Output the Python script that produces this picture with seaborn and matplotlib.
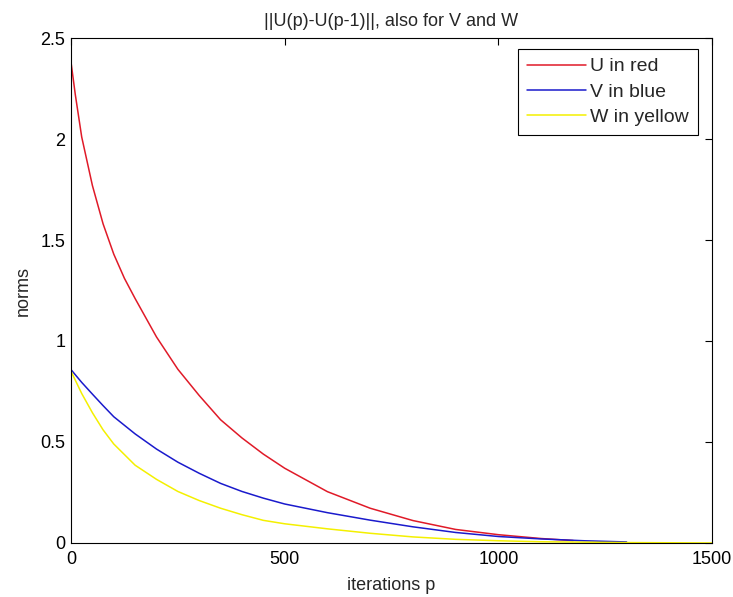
import numpy as np
import pandas as pd
import matplotlib
matplotlib.use("Agg")
import matplotlib.pyplot as plt
import seaborn as sns

# ------------------------------
# Data
# ------------------------------
u_iter = [0, 10, 25, 50, 75, 100, 125, 150, 200, 250, 300, 350, 400, 450, 500, 600, 700, 800, 900, 1000, 1100, 1175]
u_norm = [2.38, 2.22, 2.01, 1.77, 1.58, 1.43, 1.31, 1.21, 1.02, 0.86, 0.73, 0.61, 0.52, 0.44, 0.37, 0.254, 0.172, 0.111, 0.067, 0.041, 0.022, 0.012]

v_iter = [0, 25, 50, 75, 100, 150, 200, 250, 300, 350, 400, 450, 500, 600, 700, 800, 900, 1000, 1100, 1200, 1300]
v_norm = [0.858, 0.795, 0.737, 0.68, 0.625, 0.54, 0.465, 0.40, 0.345, 0.295, 0.255, 0.222, 0.193, 0.15, 0.113, 0.08, 0.052, 0.032, 0.02, 0.011, 0.005]

w_iter = [0, 25, 50, 75, 100, 150, 200, 250, 300, 350, 400, 450, 500, 600, 700, 800, 900, 1000, 1100, 1300, 1500]
w_norm = [0.85, 0.74, 0.645, 0.56, 0.49, 0.385, 0.315, 0.255, 0.21, 0.172, 0.14, 0.112, 0.095, 0.07, 0.048, 0.03, 0.018, 0.011, 0.006, 0.002, 0.0]

labels = ["U in red", "V in blue", "W in yellow"]
colors = ["#e01a28", "#1a1acc", "#f4f000"]

x_ticks = [0, 500, 1000, 1500]
y_ticks = [0, 0.5, 1, 1.5, 2, 2.5]
y_tick_labels = ["0", "0.5", "1", "1.5", "2", "2.5"]

# ------------------------------
# Style
# ------------------------------
sns.set_theme(style="white")
plt.rcParams['font.family'] = ['Liberation Sans', 'DejaVu Sans']
fs = 13

fig = plt.figure(figsize=(7.33, 5.97), dpi=100)
ax = fig.add_axes([0.0969, 0.0905, 0.8745, 0.8458])

series = [(u_iter, u_norm), (v_iter, v_norm), (w_iter, w_norm)]
for (xs, ys), lab, col in zip(series, labels, colors):
    sns.lineplot(x=xs, y=ys, ax=ax, color=col, linewidth=1.1, label=lab)

ax.set_xlim(0, 1500)
ax.set_ylim(0, 2.5)
ax.set_xticks(x_ticks)
ax.set_xticklabels([str(t) for t in x_ticks])
ax.set_yticks(y_ticks)
ax.set_yticklabels(y_tick_labels)
ax.tick_params(axis="both", direction="in", length=5, width=0.8, colors="black",
               top=True, right=True, labelsize=fs)
ax.tick_params(axis="x", pad=6)
ax.tick_params(axis="y", pad=4)
for sp in ax.spines.values():
    sp.set_visible(True)
    sp.set_color("black")
    sp.set_linewidth(0.8)

ax.set_title("||U(p)-U(p-1)||, also for V and W", fontsize=fs, pad=9)
ax.set_xlabel("iterations p", fontsize=fs, labelpad=6)
ax.set_ylabel("norms", fontsize=fs, labelpad=6)

leg = ax.legend(loc="upper right", bbox_to_anchor=(0.978, 0.978), frameon=True,
                fancybox=False, fontsize=14, handlelength=3.0, handletextpad=0.25,
                borderpad=0.45, labelspacing=0.4, borderaxespad=0.0)
leg.get_frame().set_edgecolor("black")
leg.get_frame().set_linewidth(0.8)
leg.get_frame().set_alpha(1)

fig.savefig("out.png", dpi=100, facecolor="white")
